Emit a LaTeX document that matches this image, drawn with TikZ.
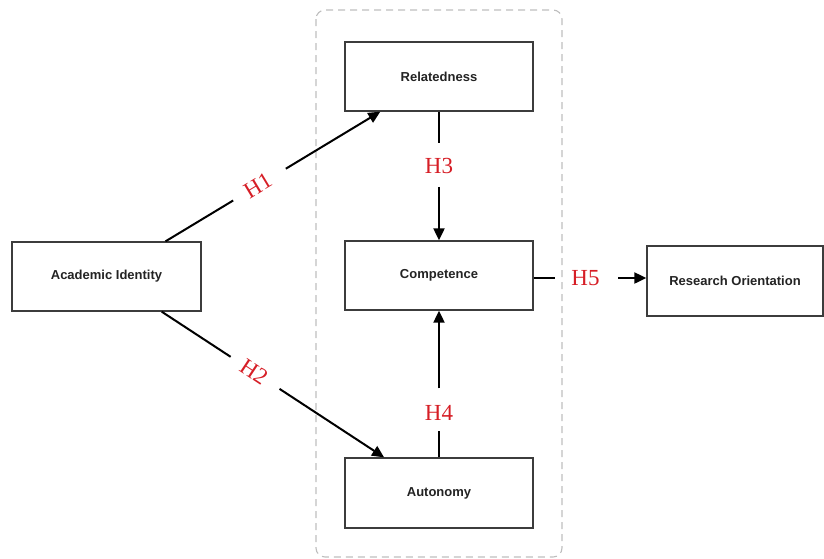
\documentclass[tikz,border=0pt]{standalone}
\usepackage{fontspec}
\setmainfont{Liberation Serif}
\setsansfont{Liberation Sans}
\usetikzlibrary{arrows.meta,calc}
\definecolor{hred}{RGB}{214,30,38}
\definecolor{boxline}{RGB}{60,60,60}
\definecolor{dashgray}{RGB}{190,190,190}
\definecolor{txt}{RGB}{35,35,35}
\begin{document}
\begin{tikzpicture}[x=1pt,y=-1pt,
  box/.style={draw=boxline,line width=1.3pt,fill=white,inner sep=0pt,
    font=\sffamily\bfseries\fontsize{13}{15}\selectfont,text=txt},
  conn/.style={line width=2pt,black},
  arr/.style={conn,-{Triangle[length=12pt,width=11pt]}},
  lbl/.style={font=\fontsize{23}{25}\selectfont,text=hred,inner sep=0pt}]
\useasboundingbox (0,0) rectangle (824,558);
\draw[dashgray,line width=1.1pt,dash pattern=on 7pt off 5pt,rounded corners=9pt] (316,10) rectangle (562,557);
\node[box,minimum width=188pt,minimum height=69pt] (rel) at (439,76.5) {Relatedness};
\node[box,minimum width=188pt,minimum height=69pt] (cmp) at (439,275.5) {Competence};
\node[box,minimum width=188pt,minimum height=70pt] (aut) at (439,493) {Autonomy};
\node[box,minimum width=189pt,minimum height=69pt] (ai) at (106.5,276.5) {Academic Identity};
\node[box,minimum width=176pt,minimum height=70pt] (ro) at (735,281) {Research Orientation};
% H1
\coordinate (s1) at ($(ai.north west)!0.81!(ai.north east)$);
\coordinate (e1) at ($(rel.south west)!0.19!(rel.south east)$);
\path (s1) -- (e1) coordinate[pos=0.315] (g1a) coordinate[pos=0.56] (g1b)
  node[pos=0.43,lbl,rotate=31] (h1) {H1};
\draw[conn] (s1) -- (g1a);
\draw[arr] (g1b) -- (e1);
% H2
\coordinate (s2) at ($(ai.south west)!0.79!(ai.south east)$);
\coordinate (e2) at ($(aut.north west)!0.21!(aut.north east)$);
\path (s2) -- (e2) coordinate[pos=0.31] (g2a) coordinate[pos=0.53] (g2b)
  node[pos=0.415,lbl,rotate=-33.6] (h2) {H2};
\draw[conn] (s2) -- (g2a);
\draw[arr] (g2b) -- (e2);
% H3
\path (rel.south) -- (cmp.north) coordinate[pos=0.245] (g3a) coordinate[pos=0.585] (g3b)
  node[pos=0.42,lbl] (h3) {H3};
\draw[conn] (rel.south) -- (g3a);
\draw[arr] (g3b) -- (cmp.north);
% H4
\path (aut.north) -- (cmp.south) coordinate[pos=0.18] (g4a) coordinate[pos=0.47] (g4b)
  node[pos=0.305,lbl] (h4) {H4};
\draw[conn] (aut.north) -- (g4a);
\draw[arr] (g4b) -- (cmp.south);
% H5
\coordinate (e5) at ($(cmp.east -| ro.west)+(0,2.5)$);
\coordinate (s5) at ($(cmp.east)+(0,2.5)$);
\path (s5) -- (e5) coordinate[pos=0.19] (g5a) coordinate[pos=0.75] (g5b)
  node[pos=0.46,lbl] (h5) {H5};
\draw[conn] (s5) -- (g5a);
\draw[arr] (g5b) -- (e5);
\end{tikzpicture}
\end{document}
